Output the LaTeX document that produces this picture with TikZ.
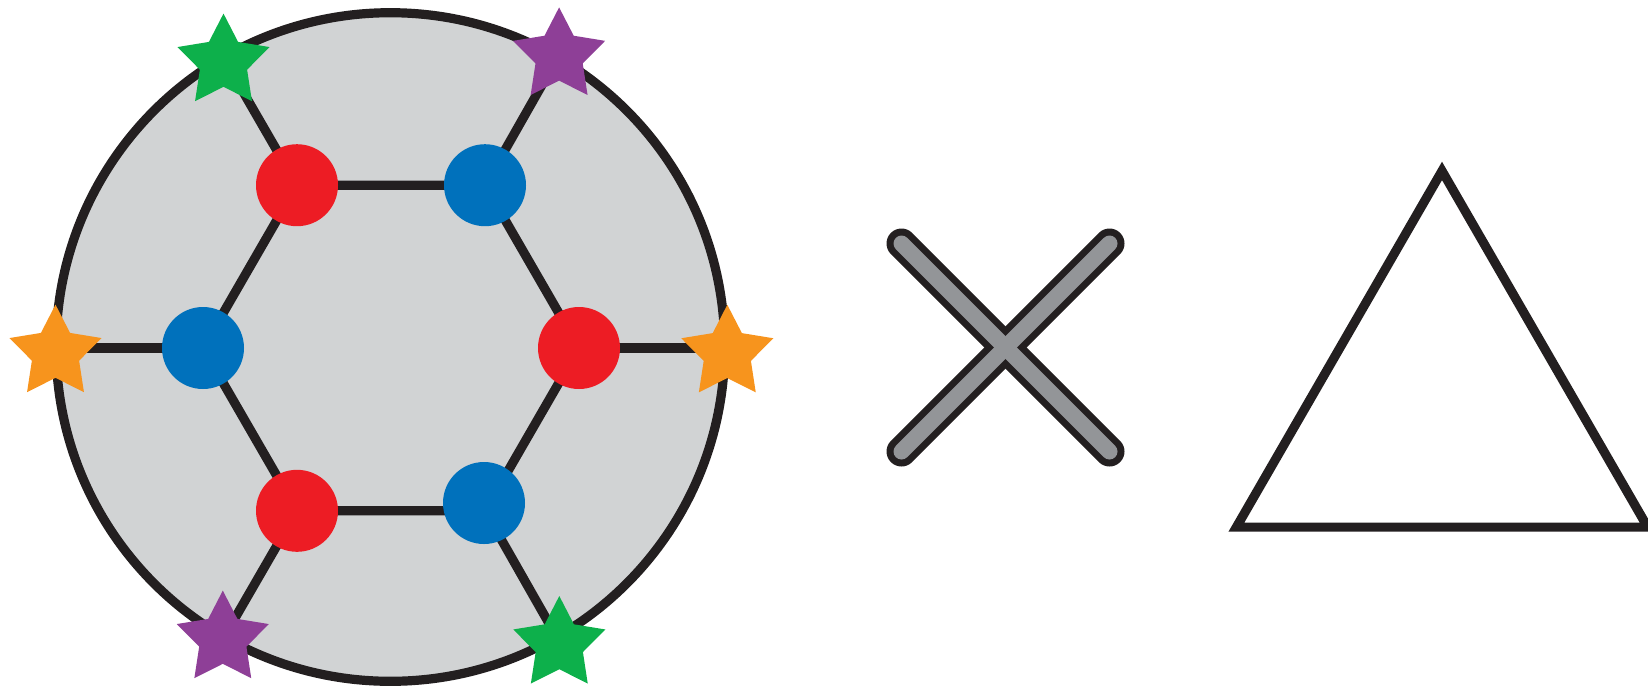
\documentclass[tikz,border=0pt]{standalone}
\usetikzlibrary{shapes.geometric}
\definecolor{ink}{HTML}{231F20}
\definecolor{discfill}{HTML}{D1D3D4}
\definecolor{myred}{HTML}{ED1C24}
\definecolor{myblue}{HTML}{0071BC}
\definecolor{mygreen}{HTML}{0DB04B}
\definecolor{mypurple}{HTML}{8E3F97}
\definecolor{myorange}{HTML}{F7941D}
\definecolor{xgray}{HTML}{939598}
\begin{document}
\begin{tikzpicture}[x=0.5pt,y=-0.5pt,
  edge/.style={draw=ink,line width=4.6pt},
  dot/.style={circle,inner sep=0pt,minimum size=41pt},
  rdot/.style={dot,fill=myred},
  bdot/.style={dot,fill=myblue},
  starmark/.style={star,star points=5,star point ratio=1.95,inner sep=0pt,minimum size=48.4pt},
  xout/.style={draw=ink,line width=15pt,line cap=round},
  xin/.style={draw=xgray,line width=8pt,line cap=round}]
\useasboundingbox (0,0) rectangle (1648,687);
% disc
\node[circle,draw=ink,fill=discfill,line width=4.6pt,inner sep=0pt,minimum size=334.3pt] (disc) at (390.4,347) {};
% hexagon vertices
\coordinate (v0) at (579,348);
\coordinate (v60) at (485,185.2);
\coordinate (v120) at (297,185.2);
\coordinate (v180) at (203,348);
\coordinate (v240) at (297,510.8);
\coordinate (v300) at (485,510.8);
% spoke ends on the disc border
\coordinate (p0) at (724.7,348);
\coordinate (p60) at (557.6,57.5);
\coordinate (p120) at (223.2,57.5);
\coordinate (p180) at (56.1,348);
\coordinate (p240) at (223.2,638.5);
\coordinate (p300) at (557.6,638.5);
% edges
\draw[edge] (v0) -- (v60) -- (v120) -- (v180) -- (v240) -- (v300) -- cycle;
\draw[edge] (v0) -- (p0);
\draw[edge] (v60) -- (p60);
\draw[edge] (v120) -- (p120);
\draw[edge] (v180) -- (p180);
\draw[edge] (v240) -- (p240);
\draw[edge] (v300) -- (p300);
% dots
\node[rdot] (n0) at (v0) {};
\node[bdot] (n60) at (v60) {};
\node[rdot] (n120) at (v120) {};
\node[bdot] (n180) at (v180) {};
\node[rdot] (n240) at (v240) {};
\node[bdot] (n300) at (484,503) {};
% stars
\node[starmark,fill=myorange] (s0) at (727.3,353.2) {};
\node[starmark,fill=mypurple] (s60) at (559.1,55.8) {};
\node[starmark,fill=mygreen] (s120) at (223.5,62) {};
\node[starmark,fill=myorange] (s180) at (55.5,353) {};
\node[starmark,fill=mypurple] (s240) at (222.8,639) {};
\node[starmark,fill=mygreen] (s300) at (559.3,644.4) {};
% cross
\coordinate (xa) at (901.5,243.5);
\coordinate (xb) at (1109.5,451.5);
\coordinate (xc) at (1109.5,243.5);
\coordinate (xd) at (901.5,451.5);
\draw[xout] (xa) -- (xb);
\draw[xout] (xc) -- (xd);
\draw[xin] (xa) -- (xb);
\draw[xin] (xc) -- (xd);
% triangle
\coordinate (ta) at (1442,170.9);
\coordinate (tb) at (1236.4,527.1);
\coordinate (tc) at (1647.6,527.1);
\draw[draw=ink,line width=4.6pt,line join=miter] (ta) -- (tb) -- (tc) -- cycle;
\end{tikzpicture}
\end{document}
